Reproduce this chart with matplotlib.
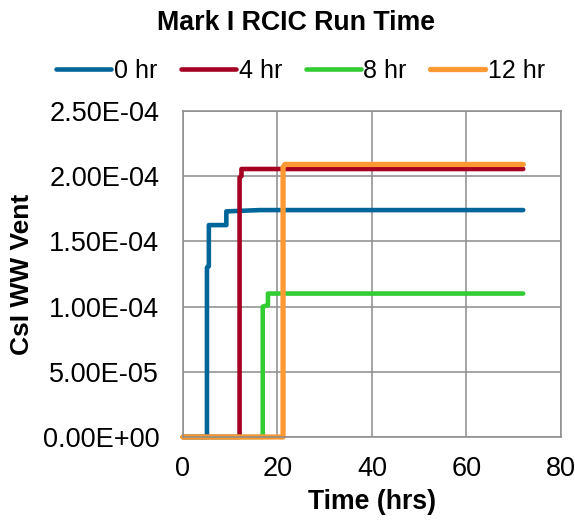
import matplotlib
matplotlib.use('Agg')
import matplotlib.pyplot as plt
from matplotlib.ticker import FuncFormatter

plt.rcParams['font.family'] = ['Liberation Sans', 'DejaVu Sans']

# 各工况的阶跃曲线（时间 hrs，CsI 释放份额）
t_0hr = [0, 5.1, 5.1, 5.5, 5.5, 9.2, 9.2, 16.3, 72]
v_0hr = [0, 0, 1.30e-4, 1.31e-4, 1.625e-4, 1.625e-4, 1.73e-4, 1.74e-4, 1.74e-4]

t_4hr = [0, 12.0, 12.0, 12.4, 12.4, 72]
v_4hr = [0, 0, 1.99e-4, 2.0e-4, 2.055e-4, 2.055e-4]

t_8hr = [0, 16.9, 16.9, 18.0, 18.0, 72]
v_8hr = [0, 0, 1.0e-4, 1.01e-4, 1.10e-4, 1.10e-4]

t_12hr = [0, 21.2, 21.2, 21.6, 72]
v_12hr = [0, 0, 2.07e-4, 2.09e-4, 2.09e-4]

labels = ['0 hr', '4 hr', '8 hr', '12 hr']
colors = ['#006699', '#A50021', '#33CC33', '#FF9933']
widths = [3.3, 3.3, 3.3, 3.8]

fig = plt.figure(figsize=(5.75, 5.2), dpi=100)
ax = fig.add_axes([0.318, 0.1596, 0.6577, 0.627])

series = [(t_0hr, v_0hr), (t_4hr, v_4hr), (t_8hr, v_8hr), (t_12hr, v_12hr)]
for (t, v), lab, c, w in zip(series, labels, colors, widths):
    ax.plot(t, v, color=c, lw=w, label=lab, clip_on=False,
            solid_capstyle='round', solid_joinstyle='round')

ax.set_xlim(0, 80)
ax.set_ylim(0, 2.5e-4)
ax.set_xticks([0, 20, 40, 60, 80])
ax.set_yticks([0, 5e-5, 1e-4, 1.5e-4, 2e-4, 2.5e-4])
ax.yaxis.set_major_formatter(FuncFormatter(lambda v, p: f'{v:.2E}'))
ax.tick_params(axis='both', length=0, labelsize=19.5)
ax.tick_params(axis='x', pad=14)
ax.tick_params(axis='y', pad=17)

ax.grid(True, color='#8C8C8C', lw=1.1)
ax.set_axisbelow(True)
for s in ax.spines.values():
    s.set_color('#8C8C8C')
    s.set_linewidth(1.1)

ax.set_xlabel('Time (hrs)', fontsize=19.2, fontweight='bold', labelpad=5)
ax.set_ylabel('CsI WW Vent', fontsize=19, fontweight='bold', labelpad=6)

fig.suptitle('Mark I RCIC Run Time', fontsize=19.3, fontweight='bold',
             x=0.515, y=0.98)
fig.legend(loc='center', bbox_to_anchor=(0.523, 0.863), ncol=4,
           frameon=False, fontsize=18, handlelength=2.2,
           handletextpad=0.1, columnspacing=0.95)

fig.savefig('out.png', dpi=100)
